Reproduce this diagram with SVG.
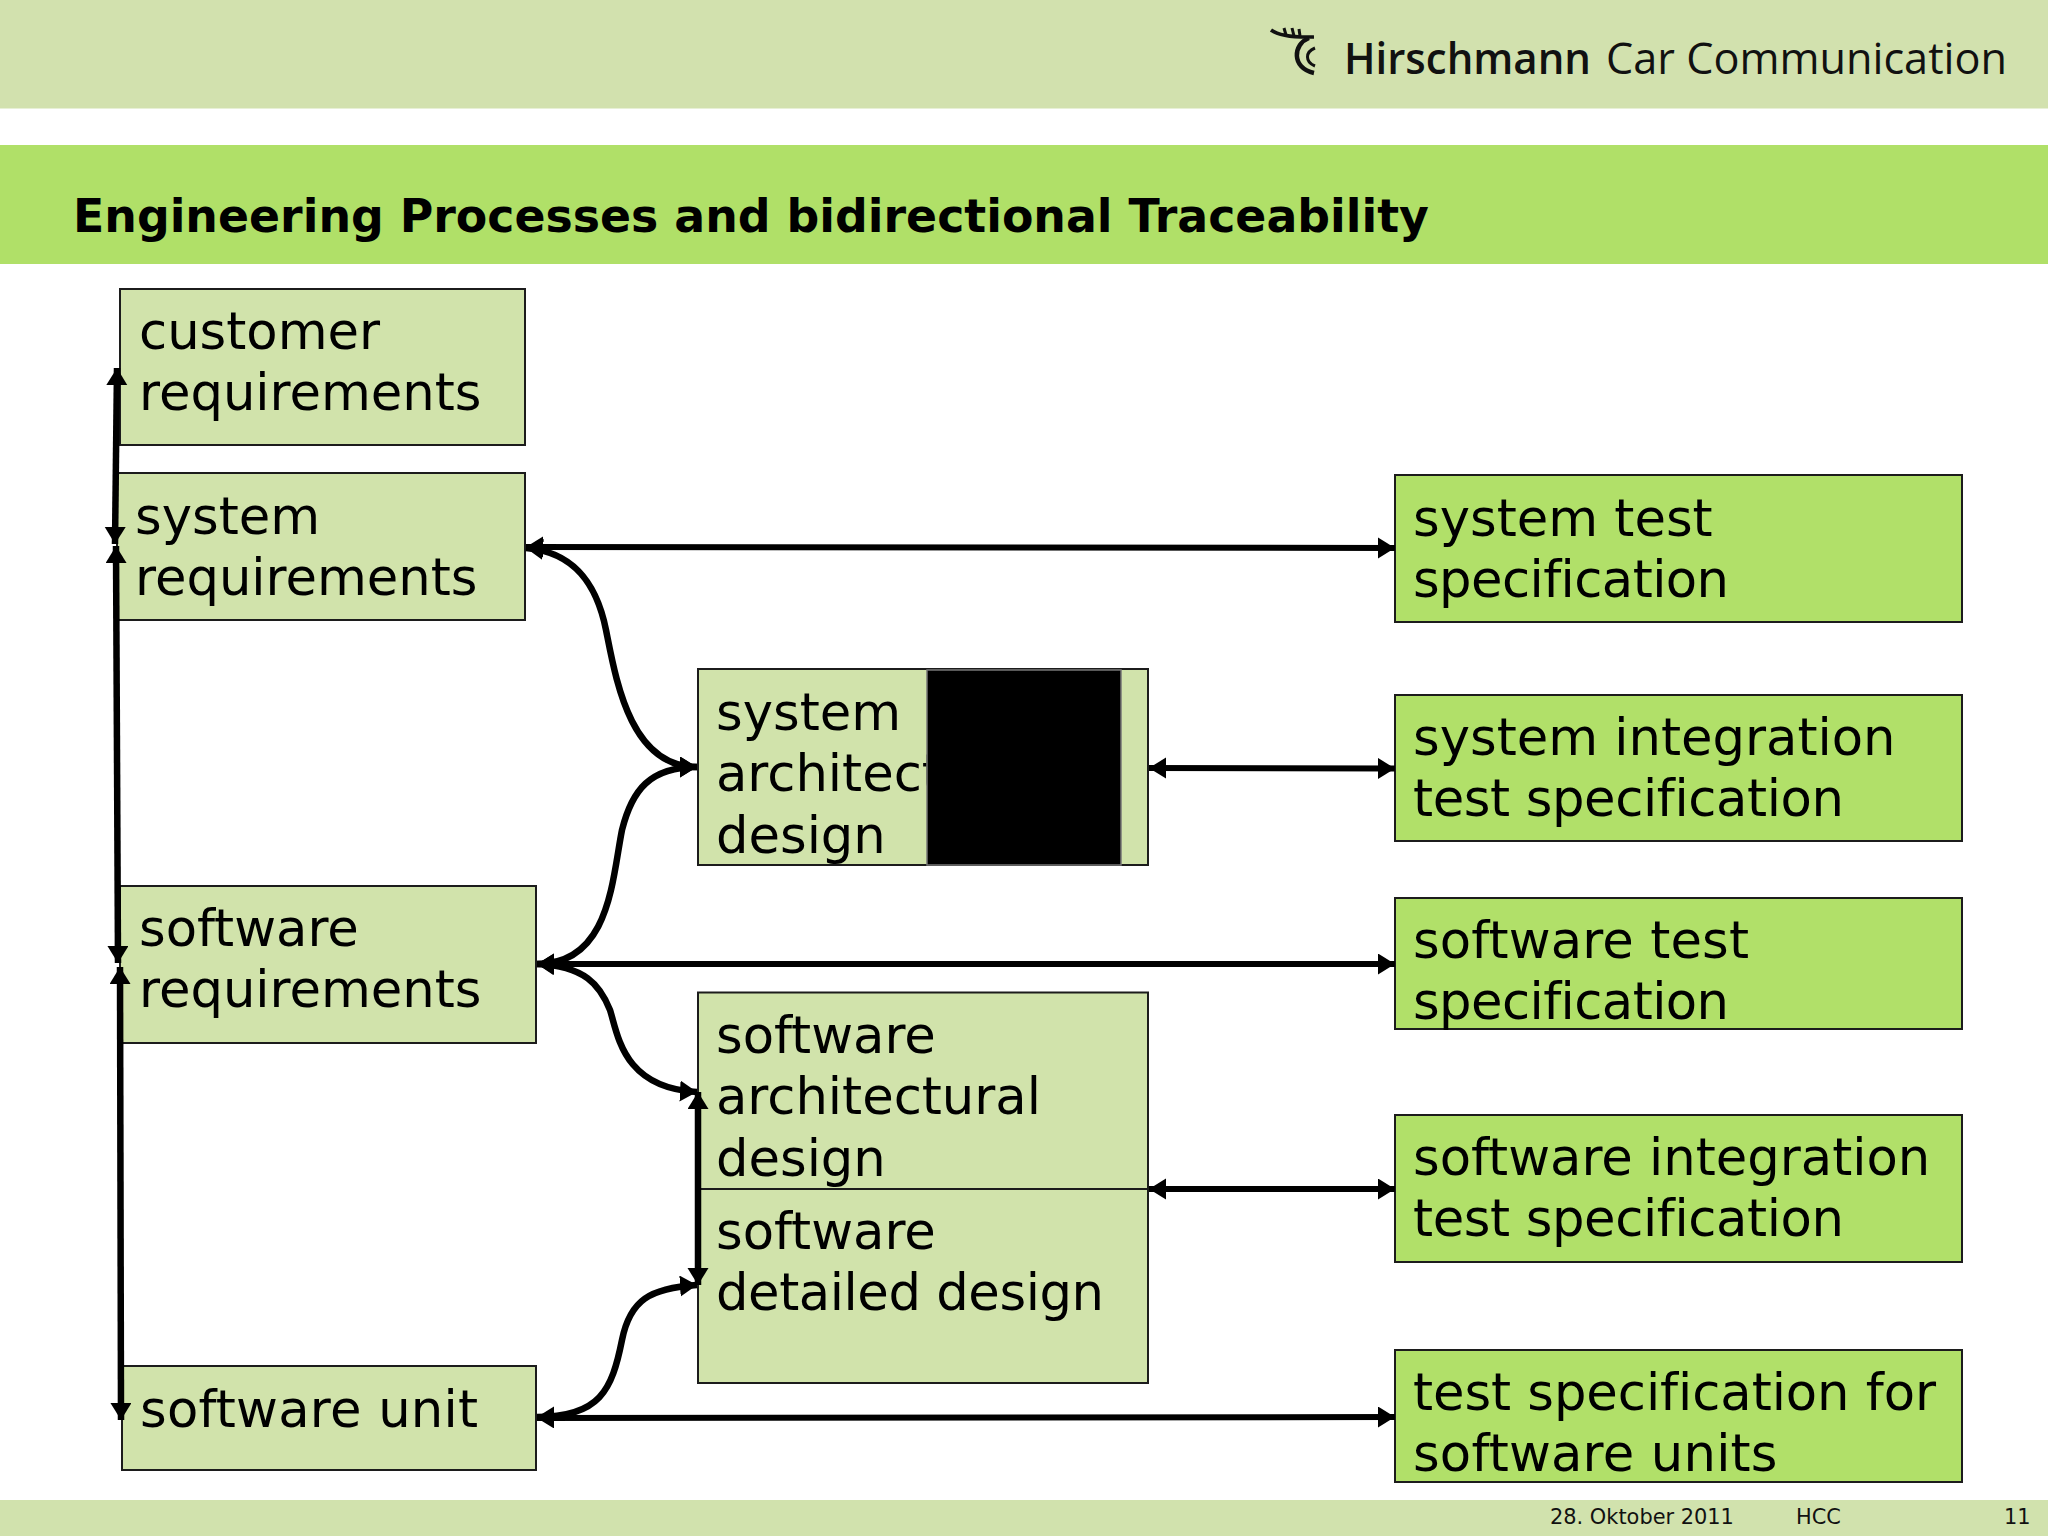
<svg xmlns="http://www.w3.org/2000/svg" width="2048" height="1536" viewBox="0 0 2048 1536">
<style>
.l{fill:#d1e3ab;stroke:#1c1c1c;stroke-width:2}
.d{fill:#b1e069;stroke:#1c1c1c;stroke-width:2}
.t{font-family:"DejaVu Sans",Verdana,sans-serif;font-size:51.2px;fill:#000;font-variant-ligatures:none}
.c{fill:none;stroke:#000;stroke-width:6;marker-start:url(#h);marker-end:url(#h)}
.v{stroke-width:6.500}
.f{font-family:"DejaVu Sans",Verdana,sans-serif;font-size:20.9px;fill:#111}
</style>
<defs>
<marker id="h" markerUnits="userSpaceOnUse" markerWidth="19" markerHeight="22" refX="17" refY="10.500" orient="auto-start-reverse"><path d="M0 0L17 10.500L0 21Z" fill="#000"/></marker>
</defs>
<rect width="2048" height="1536" fill="#fff"/>
<g id="header">
<rect x="0" y="0" width="2048" height="108.500" fill="#d2e1ae"/>
<g id="logo-mark" fill="none" stroke="#111">
<path d="M1271 30Q1282 38 1314 37" stroke-width="3.500"/>
<path d="M1284 28L1286 35M1292 28L1294 36M1299 29L1300 36" stroke-width="3"/>
<path d="M1309 38C1293 44 1291 68 1314 73" stroke-width="4.500"/>
<path d="M1315 48C1305 52 1305 62 1315 66" stroke-width="3"/>
</g>
<text x="1344" y="74" font-family="'Open Sans',sans-serif" font-size="44" font-weight="600" fill="#111" textLength="247" lengthAdjust="spacingAndGlyphs">Hirschmann</text>
<text x="1606" y="74" font-family="'Open Sans',sans-serif" font-size="44" fill="#111" textLength="401" lengthAdjust="spacingAndGlyphs">Car Communication</text>
</g>
<g id="title">
<rect x="0" y="145" width="2048" height="119" fill="#b0e068"/>
<text x="73" y="232" font-family="'DejaVu Sans',Verdana,sans-serif" font-size="45.800" font-weight="700" fill="#000">Engineering Processes and bidirectional Traceability</text>
</g>
<g id="footer">
<rect x="0" y="1500" width="2048" height="36" fill="#d1e2ad"/>
<text class="f" x="1550" y="1524">28. Oktober 2011</text>
<text class="f" x="1796" y="1524">HCC</text>
<text class="f" x="2004" y="1524">11</text>
</g>
<g id="customer-requirements"><rect class="l" x="120" y="289" width="405" height="156"/><text class="t" x="139" y="349">customer</text><text class="t" x="139" y="410">requirements</text></g>
<g id="system-requirements"><rect class="l" x="117" y="473" width="408" height="147"/><text class="t" x="135" y="534">system</text><text class="t" x="135" y="595">requirements</text></g>
<g id="software-requirements"><rect class="l" x="120" y="886" width="416" height="157"/><text class="t" x="139" y="946">software</text><text class="t" x="139" y="1007">requirements</text></g>
<g id="software-unit"><rect class="l" x="122" y="1366" width="414" height="104"/><text class="t" x="140" y="1427" textLength="338">software unit</text></g>
<g id="system-architectural-design"><rect class="l" x="698" y="669" width="450" height="196"/><text class="t" x="716" y="730">system</text><text class="t" x="716" y="791">architect</text><text class="t" x="716" y="853">design</text>
<rect x="927" y="670" width="194" height="195" fill="#000" stroke="#777" stroke-width="1.500"/></g>
<g id="software-architectural-design"><rect class="l" x="698" y="992.500" width="450" height="196.500"/><text class="t" x="716" y="1053">software</text><text class="t" x="716" y="1114">architectural</text><text class="t" x="716" y="1176">design</text></g>
<g id="software-detailed-design"><rect class="l" x="698" y="1189" width="450" height="194"/><text class="t" x="716" y="1249">software</text><text class="t" x="716" y="1310" textLength="388">detailed design</text></g>
<g id="system-test-specification"><rect class="d" x="1395" y="475" width="567" height="147"/><text class="t" x="1413" y="536">system test</text><text class="t" x="1413" y="597" textLength="316">specification</text></g>
<g id="system-integration-test-specification"><rect class="d" x="1395" y="695" width="567" height="146"/><text class="t" x="1413" y="755">system integration</text><text class="t" x="1413" y="816" textLength="431">test specification</text></g>
<g id="software-test-specification"><rect class="d" x="1395" y="898" width="567" height="131"/><text class="t" x="1413" y="958" textLength="336">software test</text><text class="t" x="1413" y="1019" textLength="316">specification</text></g>
<g id="software-integration-test-specification"><rect class="d" x="1395" y="1115" width="567" height="147"/><text class="t" x="1413" y="1175">software integration</text><text class="t" x="1413" y="1236" textLength="431">test specification</text></g>
<g id="test-specification-for-software-units"><rect class="d" x="1395" y="1350" width="567" height="132"/><text class="t" x="1413" y="1410" textLength="523">test specification for</text><text class="t" x="1413" y="1471" textLength="364.500">software units</text></g>
<g id="connectors">
<path class="c" d="M526 547L1395 548"/>
<path class="c" d="M1149 768L1395 768.500"/>
<path class="c" d="M537 964L1395 964"/>
<path class="c" d="M1149 1189L1395 1189"/>
<path class="c" d="M537 1418L1395 1417"/>
<path class="c v" d="M526 548C575 552 597 585 606 630C616 680 630 767 697 767"/>
<path class="c v" d="M697 767C650 767 632 790 622 830C612 880 610 964 537 964"/>
<path class="c v" d="M537 964C585 966 600 985 610 1010C618 1035 623 1088 697 1092"/>
<path class="c v" d="M697 1285C650 1288 630 1300 622 1340C612 1390 600 1417 537 1417"/>
<path class="c v" d="M698 1092L698 1285"/>
<path class="c v" d="M117 368L115 544"/>
<path class="c v" d="M116 546L118 963"/>
<path class="c v" d="M120 967L121 1420"/>
</g>
</svg>
